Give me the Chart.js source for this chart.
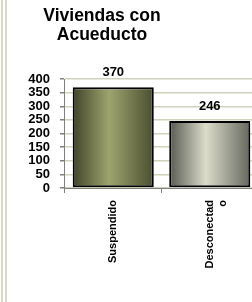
<!DOCTYPE html>
<html>
<head>
<meta charset="utf-8">
<script src="https://cdn.jsdelivr.net/npm/chart.js@4.4.1/dist/chart.umd.min.js"></script>
<style>
  html, body { margin: 0; padding: 0; width: 252px; height: 302px; overflow: hidden; background: #ffffff; }
  #frame { position: absolute; left: 1px; top: 0; width: 6px; height: 302px; border-left: 6px double #d7dbc1; box-sizing: border-box; }
  #title { position: absolute; left: 22px; width: 160px; top: 6px; text-align: center;
           font-family: "Liberation Sans", Arial, sans-serif; font-weight: bold; font-size: 17.5px; line-height: 19px; color: #000; }
  #wrap { position: absolute; left: 0; top: 0; width: 262px; height: 302px; }
  #dbg { position: absolute; left: 130px; top: 0; font: 9px monospace; color: red; }
</style>
</head>
<body>
<div id="frame"></div>
<div id="wrap"><canvas id="c"></canvas></div>
<div id="title">Viviendas con<br>Acueducto</div>
<script>
const categories = [["Suspendido"], ["Desconectad", "o"]];
const values = [370, 246];
const yTicks = [0, 50, 100, 150, 200, 250, 300, 350, 400];

const gradStops = [
  ["#40442a", "#9ea46e", "#4a4e30"],
  ["#575a52", "#dcdcca", "#64675d"]
];

function barFill(ctx) {
  const chart = ctx.chart;
  const i = ctx.dataIndex;
  const stops = gradStops[i % gradStops.length];
  if (!chart.chartArea) return stops[1];
  const xs = chart.scales.x;
  const cx = xs.getPixelForValue(i);
  const w = xs.width / categories.length * 0.84;
  const g = chart.ctx.createLinearGradient(cx - w / 2, 0, cx + w / 2, 0);
  g.addColorStop(0, stops[0]);
  g.addColorStop(0.45, stops[1]);
  g.addColorStop(1, stops[2]);
  return g;
}

const valueLabels = {
  id: 'valueLabels',
  afterDatasetsDraw(chart) {
    const c = chart.ctx;
    const meta = chart.getDatasetMeta(0);
    c.save();
    c.font = 'bold 13px "Liberation Sans", Arial, sans-serif';
    c.fillStyle = '#000';
    c.textAlign = 'center';
    c.textBaseline = 'middle';
    meta.data.forEach((bar, i) => {
      c.fillText(String(values[i]), bar.x, bar.y - 14.5);
    });
    c.restore();
  }
};

new Chart(document.getElementById('c'), {
  type: 'bar',
  data: {
    labels: categories,
    datasets: [{
      data: values,
      backgroundColor: barFill,
      borderColor: '#000000',
      borderWidth: 2,
      borderSkipped: false,
      barPercentage: 0.84,
      categoryPercentage: 1.0
    }]
  },
  options: {
    responsive: true,
    maintainAspectRatio: false,
    animation: false,
    layout: { padding: { top: 79, bottom: 26.5, left: 18.3, right: 4 } },
    plugins: { legend: { display: false }, title: { display: false }, tooltip: { enabled: false } },
    scales: {
      x: {
        offset: true,
        grid: { display: true, drawOnChartArea: false, offset: true, tickLength: 5, tickColor: '#808080' },
        border: { display: true, color: '#808080', width: 1 },
        ticks: {
          minRotation: 90, maxRotation: 90, padding: 7, color: '#000',
          font: { family: '"Liberation Sans", Arial, sans-serif', size: 11, weight: 'bold', lineHeight: 1.2 }
        }
      },
      y: {
        min: 0, max: 400,
        afterBuildTicks(axis) { axis.ticks = yTicks.map(v => ({ value: v })); },
        grid: { color: '#d0d3bc', lineWidth: 1.5, tickLength: 5, tickColor: '#808080' },
        border: { display: true, color: '#808080', width: 1 },
        ticks: {
          autoSkip: false,
          padding: 10, color: '#000',
          font: { family: '"Liberation Sans", Arial, sans-serif', size: 13, weight: 'bold', lineHeight: 1.0 }
        }
      }
    }
  },
  plugins: [valueLabels]
});
</script>
</body>
</html>
